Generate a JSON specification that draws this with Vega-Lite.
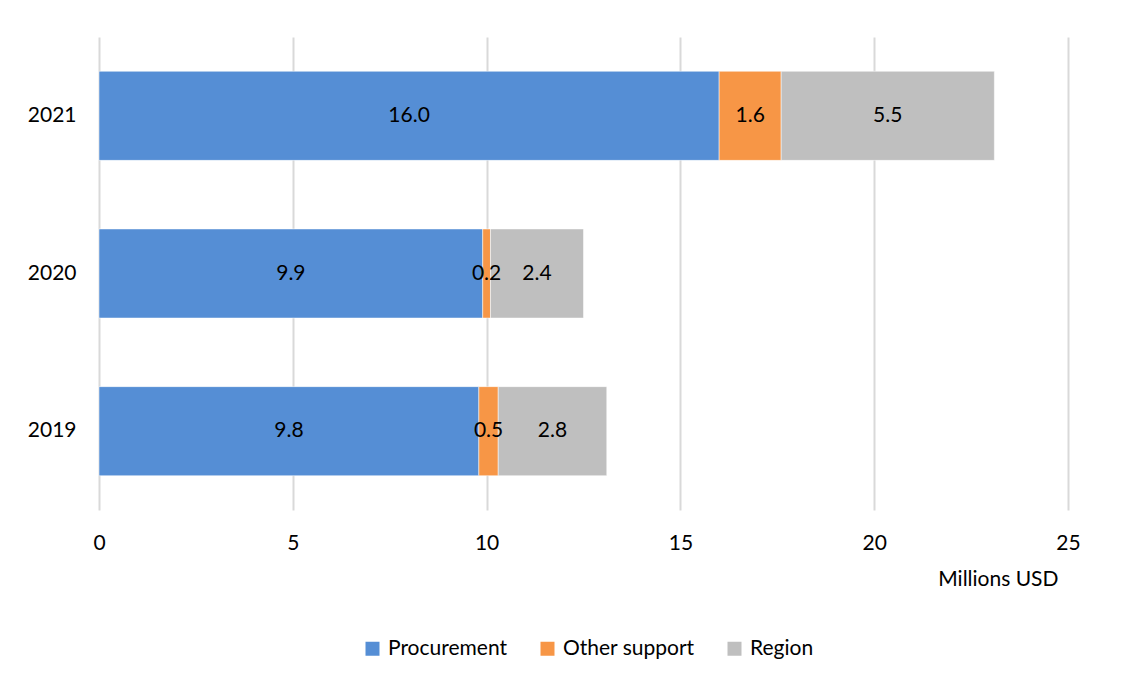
{
  "$schema": "https://vega.github.io/schema/vega-lite/v6.json",
  "autosize": "none",
  "width": 969,
  "height": 473,
  "padding": {"left": 99, "top": 37, "right": 71, "bottom": 170},
  "background": "white",
  "config": {
    "font": "Lato",
    "view": {"stroke": null},
    "axis": {"labelFont": "Lato", "titleFont": "Lato", "labelColor": "#000000", "titleColor": "#000000"},
    "legend": {"labelFont": "Lato"}
  },
  "data": {
    "values": [
      {"year": "2021", "category": "Procurement", "order": 1, "value": 16.0, "label": "16.0"},
      {"year": "2021", "category": "Other support", "order": 2, "value": 1.6, "label": "1.6"},
      {"year": "2021", "category": "Region", "order": 3, "value": 5.5, "label": "5.5"},
      {"year": "2020", "category": "Procurement", "order": 1, "value": 9.9, "label": "9.9"},
      {"year": "2020", "category": "Other support", "order": 2, "value": 0.2, "label": "0.2"},
      {"year": "2020", "category": "Region", "order": 3, "value": 2.4, "label": "2.4"},
      {"year": "2019", "category": "Procurement", "order": 1, "value": 9.8, "label": "9.8"},
      {"year": "2019", "category": "Other support", "order": 2, "value": 0.5, "label": "0.5"},
      {"year": "2019", "category": "Region", "order": 3, "value": 2.8, "label": "2.8"}
    ]
  },
  "encoding": {
    "y": {
      "field": "year",
      "type": "nominal",
      "sort": ["2021", "2020", "2019"],
      "scale": {"paddingInner": 0.435, "paddingOuter": 0.2175},
      "axis": {
        "title": null,
        "domain": false,
        "ticks": false,
        "labelFontSize": 21,
        "labelPadding": 23
      }
    }
  },
  "layer": [
    {
      "mark": {"type": "bar", "stroke": "#ffffff", "strokeWidth": 0.5},
      "encoding": {
        "x": {
          "field": "value",
          "type": "quantitative",
          "stack": "zero",
          "scale": {"domain": [0, 25], "nice": false},
          "axis": {
            "values": [0, 5, 10, 15, 20, 25],
            "title": "Millions USD",
            "titleFontSize": 21,
            "titleFontWeight": "normal",
            "titleAnchor": "end",
            "titleAlign": "right",
            "titleX": 959,
            "titleY": 69,
            "titleBaseline": "middle",
            "labelFontSize": 21,
            "labelPadding": 22,
            "labelFlush": false,
            "domain": false,
            "ticks": false,
            "grid": true,
            "gridColor": "#D9D9D9",
            "gridWidth": 2
          }
        },
        "color": {
          "field": "category",
          "type": "nominal",
          "sort": ["Procurement", "Other support", "Region"],
          "scale": {
            "domain": ["Procurement", "Other support", "Region"],
            "range": ["#558ED5", "#F79646", "#BFBFBF"]
          },
          "legend": {
            "title": null,
            "orient": "none",
            "legendX": 263,
            "legendY": 601,
            "direction": "horizontal",
            "symbolType": "square",
            "symbolSize": 196,
            "symbolStrokeWidth": 0,
            "labelFontSize": 21,
            "labelColor": "#000000",
            "labelOffset": 5,
            "columnPadding": 29
          }
        },
        "order": {"field": "order", "type": "quantitative"}
      }
    },
    {
      "mark": {"type": "text", "fontSize": 21, "color": "#000000", "align": "center", "baseline": "middle"},
      "encoding": {
        "x": {"field": "value", "type": "quantitative", "stack": "zero", "bandPosition": 0.5},
        "detail": {"field": "category", "type": "nominal"},
        "order": {"field": "order", "type": "quantitative"},
        "text": {"field": "label", "type": "nominal"}
      }
    }
  ]
}
